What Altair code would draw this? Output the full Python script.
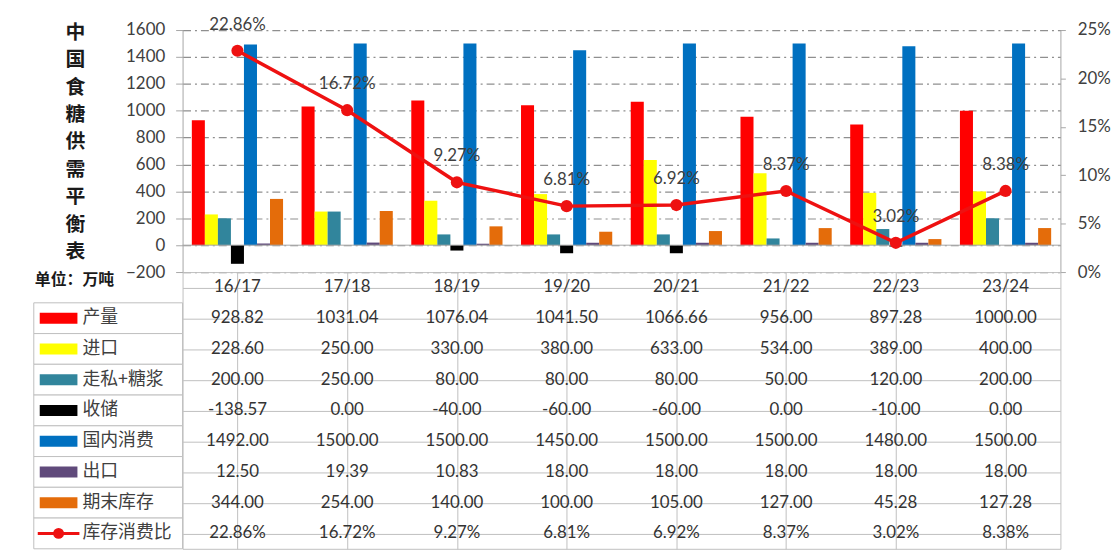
import altair as alt
import pandas as pd

# ---------------- data ----------------
categories = ["16/17", "17/18", "18/19", "19/20", "20/21", "21/22", "22/23", "23/24"]
series_names = ["产量", "进口", "走私+糖浆", "收储", "国内消费", "出口", "期末库存"]
production = [928.82, 1031.04, 1076.04, 1041.50, 1066.66, 956.00, 897.28, 1000.00]
imports = [228.60, 250.00, 330.00, 380.00, 633.00, 534.00, 389.00, 400.00]
smuggling_syrup = [200.00, 250.00, 80.00, 80.00, 80.00, 50.00, 120.00, 200.00]
reserves = [-138.57, 0.00, -40.00, -60.00, -60.00, 0.00, -10.00, 0.00]
consumption = [1492.00, 1500.00, 1500.00, 1450.00, 1500.00, 1500.00, 1480.00, 1500.00]
exports = [12.50, 19.39, 10.83, 18.00, 18.00, 18.00, 18.00, 18.00]
ending_stock = [344.00, 254.00, 140.00, 100.00, 105.00, 127.00, 45.28, 127.28]
stock_ratio_pct = [22.86, 16.72, 9.27, 6.81, 6.92, 8.37, 3.02, 8.38]
ratio_name = "库存消费比"

left_ticks = [-200, 0, 200, 400, 600, 800, 1000, 1200, 1400, 1600]
right_ticks = [0, 0.05, 0.10, 0.15, 0.20, 0.25]
title_text = "中国食糖供需平衡表"
unit_text = "单位：万吨"
header_row = "表头"

bar_colors = ["#FF0000", "#FFFF00", "#31859C", "#000000", "#0070C0", "#604A7B", "#E46C0A"]
line_color = "#EE1111"
grid_color = "#8f8f8f"
table_line = "#bfbfbf"
text_color = "#333333"
num_font = "Lato"
cjk_font = "Noto Sans CJK SC"

series_values = [production, imports, smuggling_syrup, reserves, consumption, exports, ending_stock]

# ---------------- tables ----------------
bar_df = pd.DataFrame(
    [
        {"category": c, "series": s, "value": v}
        for s, vals in zip(series_names, series_values)
        for c, v in zip(categories, vals)
    ]
)
line_df = pd.DataFrame(
    {
        "category": categories,
        "ratio": [v / 100 for v in stock_ratio_pct],
        "label": [f"{v:.2f}%" for v in stock_ratio_pct],
    }
)
rows_domain = [header_row] + series_names + [ratio_name]
table_rows = [{"category": c, "row": header_row, "text": c} for c in categories]
for s, vals in zip(series_names, series_values):
    table_rows += [{"category": c, "row": s, "text": f"{v:.2f}"} for c, v in zip(categories, vals)]
table_rows += [{"category": c, "row": ratio_name, "text": f"{v:.2f}%"} for c, v in zip(categories, stock_ratio_pct)]
table_df = pd.DataFrame(table_rows)

legend_df = pd.DataFrame({"row": series_names + [ratio_name], "col": "图例"})

PLOT_W = 885
PLOT_H = 244
ROW_H = 31
TABLE_H = ROW_H * len(rows_domain)
LEG_W = 150

band0 = alt.Scale(paddingInner=0, paddingOuter=0)
x_cat = alt.X("category:N", sort=categories, scale=band0, axis=None)

left_axis = alt.Axis(
    orient="left", values=left_ticks, format="d", title=None, grid=True,
    gridDash=[8, 4, 2, 4], gridColor=grid_color, gridWidth=1.2,
    domainColor="#a6a6a6", tickColor="#a6a6a6", tickSize=7,
    labelPadding=11, labelFont=num_font, labelFontSize=17,
    labelColor="#404040", labelOverlap=False, labelFlush=False,
)
left_scale = alt.Scale(domain=[-200, 1600], nice=False, zero=False)

# ---------------- main chart ----------------
bars = (
    alt.Chart(bar_df)
    .mark_bar()
    .encode(
        x=x_cat,
        xOffset=alt.XOffset("series:N", sort=series_names,
                            scale=alt.Scale(paddingInner=0, paddingOuter=0.71)),
        y=alt.Y("value:Q", scale=left_scale, axis=left_axis),
        color=alt.Color("series:N", sort=series_names,
                        scale=alt.Scale(domain=series_names, range=bar_colors), legend=None),
    )
)
zero_rule = alt.Chart(pd.DataFrame({"z": [0]})).mark_rule(color="#a6a6a6", strokeWidth=1).encode(
    y=alt.YDatum(0, axis=left_axis, scale=left_scale)
)

line_base = alt.Chart(line_df).encode(
    x=x_cat,
    y=alt.Y(
        "ratio:Q",
        scale=alt.Scale(domain=[0, 0.25], nice=False, zero=False),
        axis=alt.Axis(
            orient="right", values=right_ticks, format=".0%", title=None, grid=False,
            domainColor="#a6a6a6", tickColor="#a6a6a6", tickSize=5, labelPadding=12,
            labelFont=num_font, labelFontSize=17, labelColor="#404040",
            labelOverlap=False, labelFlush=False,
        ),
    ),
)
line = line_base.mark_line(color=line_color, strokeWidth=3.5)
points = line_base.mark_point(filled=True, color=line_color, size=150, opacity=1)
labels = line_base.mark_text(dy=-26, font=num_font, fontSize=17, color="#404040").encode(text="label:N")

main = (
    alt.layer(alt.layer(bars, zero_rule), alt.layer(line, points, labels))
    .resolve_scale(y="independent")
    .properties(width=PLOT_W, height=PLOT_H)
)

# ---------------- title block ----------------
title_block = alt.layer(
    alt.Chart(pd.DataFrame({"t": [title_text]})).mark_text(
        font=cjk_font, fontSize=20, fontWeight="bold", color="#1a1a1a",
        lineBreak="\n", lineHeight=27.6, baseline="middle", align="center",
    ).encode(text=alt.value("\n".join(title_text)), x=alt.value(42), y=alt.value(3)),
    alt.Chart(pd.DataFrame({"t": [unit_text]})).mark_text(
        font=cjk_font, fontSize=16, fontWeight="bold", color="#1a1a1a",
        baseline="middle", align="center",
    ).encode(text=alt.value(unit_text), x=alt.value(41), y=alt.value(252)),
).properties(width=LEG_W, height=PLOT_H)

# ---------------- legend column ----------------
y_rows = alt.Y("row:N", sort=rows_domain,
               scale=alt.Scale(domain=rows_domain, paddingInner=0, paddingOuter=0), axis=None)
leg_cells = alt.Chart(legend_df).mark_rect(fill="white", stroke=table_line, strokeWidth=1).encode(
    x=alt.X("col:N", scale=band0, axis=None), y=y_rows
)
leg_swatch = (
    alt.Chart(legend_df)
    .transform_filter(alt.FieldOneOfPredicate(field="row", oneOf=series_names))
    .mark_rule(strokeWidth=11, strokeCap="butt")
    .encode(
        x=alt.value(6), x2=alt.value(44), y=y_rows,
        color=alt.Color("row:N", scale=alt.Scale(domain=series_names, range=bar_colors), legend=None),
    )
)
ratio_leg = alt.Chart(legend_df).transform_filter(alt.datum.row == ratio_name)
leg_line = ratio_leg.mark_rule(strokeWidth=3, color=line_color).encode(
    x=alt.value(4), x2=alt.value(46), y=y_rows
)
leg_point = ratio_leg.mark_point(filled=True, size=120, color=line_color, opacity=1).encode(
    x=alt.value(25), y=y_rows
)
leg_text = alt.Chart(legend_df).mark_text(
    align="left", font=cjk_font, fontSize=18, color="#404040"
).encode(x=alt.value(49), y=y_rows, text="row:N")
legend_col = alt.layer(leg_cells, leg_swatch, leg_line, leg_point, leg_text).properties(
    width=LEG_W, height=TABLE_H
)

# ---------------- data table ----------------
table = (
    alt.Chart(table_df)
    .mark_text(font=num_font, fontSize=17, color=text_color)
    .encode(
        x=alt.X("category:N", sort=categories, scale=band0,
                axis=alt.Axis(orient="top", bandPosition=0, grid=True, gridColor=table_line,
                              labels=False, ticks=False, domain=False, title=None)),
        y=alt.Y("row:N", sort=rows_domain,
                scale=alt.Scale(domain=rows_domain, paddingInner=0, paddingOuter=0),
                axis=alt.Axis(orient="left", bandPosition=0, grid=True, gridColor=table_line,
                              labels=False, ticks=False, domain=False, title=None)),
        text="text:N",
    )
    .properties(width=PLOT_W, height=TABLE_H,
                view=alt.ViewBackground(stroke=table_line, strokeWidth=1))
)

chart = (
    alt.concat(title_block, main, legend_col, table, columns=2, spacing=0,
               bounds="flush", align="each")
    .configure_view(stroke=None)
    .properties(padding={"left": 25, "top": 5, "right": 0, "bottom": 0}, background="white")
)

chart.save("out.html", embed_options={"renderer": "svg", "actions": False})
